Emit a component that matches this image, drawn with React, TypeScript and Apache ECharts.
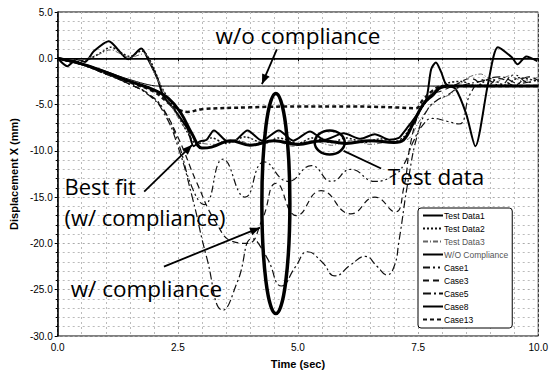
import React, { useEffect, useRef } from "react";
import * as echarts from "echarts";

type P = [number, number];

const seriesNames = [
  "Test Data1",
  "Test Data2",
  "Test Data3",
  "W/O Compliance",
  "Case1",
  "Case3",
  "Case5",
  "Case8",
  "Case13",
];

const testData1: P[] = [
  [0, 0], [0.2, -0.85], [0.4, -0.1], [0.57, -0.4], [0.75, 0.75], [1.06, 1.85], [1.47, -0.1],
  [1.74, 1.05], [1.9, -0.3], [2.08, -2.25], [2.2, -4.1], [2.42, -5.5], [2.7, -7.6], [2.83, -9.5],
  [2.95, -9.0], [3.1, -8.8], [3.25, -7.8], [3.5, -8.9], [3.65, -9.0], [3.95, -7.8], [4.25, -8.9],
  [4.6, -7.8], [4.9, -8.9], [5.25, -7.9], [5.55, -8.8], [5.95, -8.1], [6.3, -8.7], [6.6, -8.2],
  [6.9, -8.8], [7.1, -8.6], [7.2, -8.0], [7.26, -7.6], [7.46, -6.2], [7.67, -4.4], [7.77, -1.2],
  [7.87, -0.45], [7.98, -1.5], [8.08, -2.8], [8.28, -3.3], [8.5, -6.0], [8.69, -9.5], [8.96, -2.6],
  [9.16, 1.2], [9.45, 0.1], [9.57, -0.65], [9.75, 0.2], [9.98, -0.3],
];

const testData2: P[] = [
  [0, 0], [0.3, -0.4], [0.6, -0.2], [0.9, 0.6], [1.1, 1.2], [1.5, 0.2], [1.75, 0.8], [1.95, -0.5],
  [2.15, -3.0], [2.4, -5.2], [2.7, -8.0], [2.9, -9.3], [3.2, -8.6], [3.5, -9.2], [3.9, -8.5],
  [4.3, -9.2], [4.6, -8.6], [5.0, -9.2], [5.3, -8.6], [5.7, -9.1], [6.0, -8.6], [6.4, -9.1],
  [6.7, -8.7], [7.0, -9.0], [7.2, -8.5], [7.4, -6.8], [7.6, -5.2], [7.85, -3.5], [8.1, -2.7],
  [8.4, -2.5], [8.7, -3.0], [9.0, -2.2], [9.3, -2.9], [9.6, -2.1], [10, -2.5],
];

const testData3: P[] = [
  [0, 0], [0.4, -0.2], [0.8, 0.3], [1.1, 0.9], [1.5, 0.1], [1.8, 0.5], [2.0, -1.5], [2.3, -4.5],
  [2.6, -7.2], [2.9, -9.0], [3.3, -9.3], [3.7, -8.8], [4.1, -9.4], [4.5, -8.9], [4.9, -9.5],
  [5.3, -8.9], [5.7, -9.4], [6.1, -8.9], [6.5, -9.3], [6.9, -9.0], [7.3, -8.7], [7.5, -7.0],
  [7.7, -5.5], [7.9, -4.5], [8.2, -3.8], [8.5, -2.2], [8.8, -1.7], [9.1, -2.6], [9.4, -1.9],
  [9.7, -2.5], [10, -2.0],
];

const woCompliance: P[] = [
  [0, 0], [0.5, -0.55], [1.0, -1.4], [1.5, -2.3], [2.1, -3.0], [4, -3.0], [6, -3.0], [8, -3.0], [10, -3.0],
];

const case1: P[] = [
  [0, 0], [0.5, -0.7], [1.0, -1.7], [1.5, -2.8], [1.9, -3.9], [2.2, -5.5], [2.5, -9.0], [2.8, -14.0],
  [3.05, -15.8], [3.44, -10.9], [3.9, -15.0], [4.3, -11.2], [4.8, -13.3], [5.28, -11.6], [5.7, -13.3],
  [6.1, -12.0], [6.6, -13.3], [7.0, -12.6], [7.2, -11.5], [7.4, -9.0], [7.6, -7.2], [7.8, -6.5],
  [8.1, -6.8], [8.35, -7.1], [8.6, -3.7], [8.9, -2.3], [9.2, -2.9], [9.5, -1.8], [9.8, -2.6], [10, -2.1],
];

const case3: P[] = [
  [0, 0], [0.5, -0.7], [1.0, -1.7], [1.5, -2.8], [1.9, -3.9], [2.2, -5.6], [2.5, -8.5], [2.9, -13.5],
  [3.3, -17.8], [3.65, -19.8], [3.95, -20.0], [4.25, -17.5], [4.55, -13.5], [4.97, -17.0],
  [5.48, -14.3], [6.1, -16.8], [6.6, -15.0], [7.02, -16.6], [7.2, -14.0], [7.35, -9.0], [7.55, -5.5],
  [7.75, -4.0], [8.0, -3.5], [8.3, -2.8], [8.6, -2.2], [8.9, -3.0], [9.2, -2.2], [9.5, -2.9],
  [9.8, -2.0], [10, -2.4],
];

const case5: P[] = [
  [0, 0], [0.5, -0.7], [1.0, -1.7], [1.5, -2.8], [1.9, -4.0], [2.2, -5.8], [2.5, -9.5], [2.8, -15.0],
  [3.1, -21.5], [3.44, -27.2], [3.75, -24.0], [4.05, -19.5], [4.35, -21.5], [4.66, -24.6],
  [4.95, -22.5], [5.2, -20.9], [5.5, -22.0], [5.77, -23.5], [6.1, -22.3], [6.4, -21.4], [6.65, -22.5],
  [6.85, -23.4], [7.0, -22.5], [7.1, -19.8], [7.3, -13.0], [7.5, -8.0], [7.7, -5.5], [7.9, -4.5],
  [8.1, -4.0], [8.4, -3.0], [8.8, -2.5], [9.2, -2.0], [9.6, -2.7], [10, -2.3],
];

const case8: P[] = [
  [0, 0], [0.5, -0.6], [1.0, -1.5], [1.5, -2.5], [2.0, -3.4], [2.3, -4.3], [2.55, -5.8], [2.8, -8.2],
  [3.0, -9.7], [3.2, -9.6], [3.6, -8.9], [4.0, -9.4], [4.5, -8.9], [5.0, -9.3], [5.5, -8.9],
  [6.0, -9.2], [6.5, -8.9], [7.0, -9.1], [7.2, -8.8], [7.4, -7.0], [7.6, -5.0], [7.8, -4.0],
  [8.0, -3.1], [8.3, -3.0], [9, -3.0], [10, -3.0],
];

const case13: P[] = [
  [0, 0], [0.5, -0.6], [1.0, -1.6], [1.5, -2.6], [2.0, -3.6], [2.3, -4.8], [2.5, -5.5], [2.7, -5.8],
  [3.0, -5.5], [4.0, -5.3], [5.0, -5.2], [6.0, -5.2], [7.0, -5.3], [7.45, -5.4], [7.6, -4.5],
  [7.8, -3.5], [8.0, -3.0], [10, -3.0],
];

const seriesData: P[][] = [testData1, testData2, testData3, woCompliance, case1, case3, case5, case8, case13];

const lineStyles = [
  { color: "#000", width: 2, type: "solid" },
  { color: "#111", width: 1.5, type: [2, 2] },
  { color: "#666", width: 1, type: [5, 2, 1, 2] },
  { color: "#000", width: 1, type: "solid" },
  { color: "#111", width: 1.2, type: [7, 3, 2, 3, 2, 3] },
  { color: "#111", width: 1.2, type: [6, 4] },
  { color: "#111", width: 1.2, type: [8, 3, 2, 3] },
  { color: "#000", width: 3, type: "solid" },
  { color: "#111", width: 2.5, type: [4, 3] },
];

const smoothing = [0.25, 0.3, 0.3, 0.3, 0.5, 0.5, 0.5, 0.4, 0.4];

export default function App() {
  const ref = useRef<HTMLDivElement>(null);
  useEffect(() => {
    if (!ref.current) return;
    const chart = echarts.init(ref.current, undefined, { renderer: "svg" });
    const fmt = (v: number) => v.toFixed(1);
    const series: any[] = seriesNames.map((name, i) => ({
      name,
      type: "line",
      data: seriesData[i],
      showSymbol: false,
      symbol: "none",
      smooth: smoothing[i],
      lineStyle: lineStyles[i],
      itemStyle: { color: lineStyles[i].color },
      z: i === 7 ? 5 : 3,
    }));
    series[3].markLine = {
      silent: true,
      symbol: "none",
      label: { show: false },
      lineStyle: { color: "#000", width: 1, type: "solid" },
      data: [{ yAxis: 0 }],
    };
    const axisFont = "Liberation Sans Narrow, Liberation Sans, Arial";
    chart.setOption({
      animation: false,
      backgroundColor: "#fff",
      grid: { left: 55, right: 7, top: 12, bottom: 36, show: true, borderColor: "#000", borderWidth: 1 },
      xAxis: {
        type: "value",
        min: 0,
        max: 10,
        interval: 2.5,
        name: "Time (sec)",
        nameLocation: "middle",
        nameGap: 22,
        nameTextStyle: { fontFamily: axisFont, fontSize: 11, fontWeight: "bold", color: "#000" },
        axisLine: { lineStyle: { color: "#000", width: 1.5 } },
        axisTick: { show: true, inside: false, length: 3, lineStyle: { color: "#000" } },
        minorTick: { show: true, splitNumber: 5, length: 2, lineStyle: { color: "#000" } },
        axisLabel: { formatter: fmt, fontFamily: axisFont, fontSize: 10, color: "#000", margin: 6 },
        splitLine: { show: true, lineStyle: { color: "#aaa", type: [2, 3], width: 1 } },
        minorSplitLine: { show: true, lineStyle: { color: "#bbb", type: [2, 3], width: 1 } },
      },
      yAxis: {
        type: "value",
        min: -30,
        max: 5,
        interval: 5,
        name: "Displacement X (mm)",
        nameLocation: "middle",
        nameGap: 33,
        nameTextStyle: { fontFamily: "Liberation Sans, Arial", fontSize: 11, fontWeight: "bold", color: "#000" },
        axisLine: { show: true, lineStyle: { color: "#000", width: 1.5 } },
        axisTick: { show: true, length: 3, lineStyle: { color: "#000" } },
        minorTick: { show: true, splitNumber: 5, length: 2, lineStyle: { color: "#000" } },
        axisLabel: { formatter: fmt, fontFamily: axisFont, fontSize: 10, color: "#000", margin: 5 },
        splitLine: { show: true, lineStyle: { color: "#aaa", type: [2, 3], width: 1 } },
        minorSplitLine: { show: true, lineStyle: { color: "#bbb", type: [2, 3], width: 1 } },
      },
      legend: {
        data: seriesNames.map((n, i) => ({
          name: n,
          textStyle: { color: i === 2 || i === 3 ? "#555" : "#000" },
        })),
        orient: "vertical",
        left: 418,
        top: 208,
        itemWidth: 20,
        itemHeight: 8,
        itemGap: 4,
        padding: [3, 4, 4, 4],
        backgroundColor: "#fff",
        borderColor: "#000",
        borderWidth: 1,
        borderRadius: 3,
        itemStyle: { opacity: 0 },
        textStyle: { fontFamily: axisFont, fontSize: 8.5, color: "#000", padding: [0, 0, 0, -4], lineHeight: 9 },
      },
      series,
    });

    const px = (p: P) => chart.convertToPixel({ gridIndex: 0 }, p) as number[];
    const arrowHead = (from: number[], to: number[], len = 10, half = 4) => {
      const dx = to[0] - from[0];
      const dy = to[1] - from[1];
      const d = Math.hypot(dx, dy) || 1;
      const ux = dx / d, uy = dy / d;
      const bx = to[0] - ux * len, by = to[1] - uy * len;
      return [
        [to[0], to[1]],
        [bx - uy * half, by + ux * half],
        [bx + uy * half, by - ux * half],
      ];
    };
    const arrow = (a: P, b: P) => {
      const f = px(a), t = px(b);
      return [
        { type: "line", shape: { x1: f[0], y1: f[1], x2: t[0], y2: t[1] }, style: { stroke: "#000", lineWidth: 1.8 }, z: 100 },
        { type: "polygon", shape: { points: arrowHead(f, t) }, style: { fill: "#000" }, z: 100 },
      ];
    };
    const txtFont = "Open Sans, Noto Sans, sans-serif";
    const text = (p: P, s: string, align = "left", size = 22.5) => {
      const q = px(p);
      return {
        type: "text",
        x: q[0],
        y: q[1],
        z: 101,
        style: { text: s, fill: "#000", fontSize: size, lineHeight: size, fontFamily: txtFont, align, verticalAlign: "middle" },
      };
    };
    const ell = px([4.54, -15.7]);
    const circ = px([5.66, -9.1]);
    const tl1 = px([5.95, -10.0]);
    const tl2 = px([6.73, -11.9]);
    chart.setOption({
      graphic: [
        ...arrow([4.56, 0.97], [4.25, -2.8]),
        ...arrow([1.8, -14.4], [2.8, -9.35]),
        ...arrow([2.21, -22.5], [4.21, -18.3]),
        { type: "line", shape: { x1: tl1[0], y1: tl1[1], x2: tl2[0], y2: tl2[1] }, style: { stroke: "#000", lineWidth: 1.8 }, z: 100 },
        { type: "ellipse", shape: { cx: ell[0], cy: ell[1], rx: 14, ry: 110 }, style: { fill: "none", stroke: "#000", lineWidth: 3.5 }, z: 100 },
        { type: "ellipse", shape: { cx: circ[0], cy: circ[1], rx: 15, ry: 12 }, style: { fill: "none", stroke: "#000", lineWidth: 2.5 }, z: 100 },
        text([5.0, 2.47], "w/o compliance", "center"),
        text([0.14, -13.85], "Best fit", "left", 22),
        text([0.14, -17.1], "(w/ compliance)", "left", 22),
        text([0.27, -24.9], "w/ compliance"),
        text([6.87, -12.8], "Test data"),
      ],
    });
    return () => chart.dispose();
  }, []);
  return <div ref={ref} style={{ width: 551, height: 374, position: "absolute", left: 0, top: 0 }} />;
}
